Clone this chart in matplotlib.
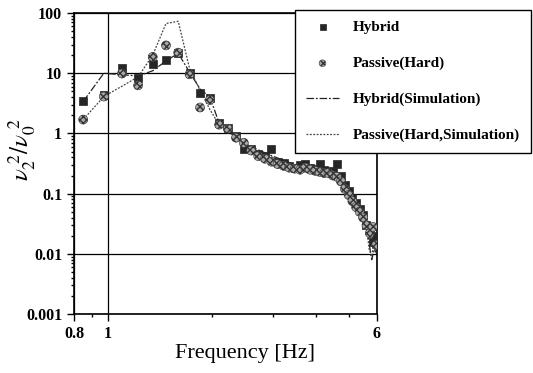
import matplotlib
matplotlib.use("Agg")
import matplotlib.pyplot as plt
from matplotlib.ticker import NullFormatter, FixedLocator

# Measured points (frequency step 0.125 Hz)
freq = [0.85, 0.975, 1.1, 1.225, 1.35, 1.475, 1.6, 1.725, 1.85, 1.975,
        2.1, 2.225, 2.35, 2.475, 2.6, 2.725, 2.85, 2.975, 3.1, 3.225,
        3.35, 3.475, 3.6, 3.725, 3.85, 3.975, 4.1, 4.225, 4.35, 4.475,
        4.6, 4.725, 4.85, 4.975, 5.1, 5.225, 5.35, 5.475, 5.6, 5.725,
        5.85, 5.975]
hybrid = [3.4, 4.3, 12, 8.2, 14.5, 16.9, 21.8, 10, 4.7, 3.9,
          1.5, 1.25, 0.9, 0.56, 0.55, 0.45, 0.42, 0.56, 0.33, 0.32,
          0.29, 0.27, 0.3, 0.31, 0.27, 0.26, 0.31, 0.25, 0.24, 0.23,
          0.31, 0.2, 0.14, 0.11, 0.085, 0.07, 0.055, 0.045, 0.03, 0.025,
          0.016, 0.02]
passive = [1.7, 4.1, 9.9, 6.3, 18.7, 29, 22, 9.6, 2.7, 3.6,
           1.4, 1.2, 0.85, 0.7, 0.52, 0.42, 0.38, 0.34, 0.31, 0.29,
           0.27, 0.26, 0.25, 0.27, 0.25, 0.24, 0.23, 0.22, 0.22, 0.2,
           0.19, 0.16, 0.12, 0.095, 0.075, 0.06, 0.05, 0.04, 0.03, 0.022,
           0.028, 0.014]

# Simulation curves
sim_freq = [0.85, 0.975, 1.225, 1.35, 1.475, 1.6, 1.725, 1.85, 1.975, 2.1,
            2.35, 2.6, 3.0, 3.5, 4.0, 4.5, 4.8, 5.1, 5.4, 5.6,
            5.7, 5.8, 5.9, 6.0]
hybrid_sim = [3.4, 10, 9.0, 11, 16, 21.5, 10.4, 5.5, 4.0, 1.5,
              0.9, 0.6, 0.42, 0.3, 0.27, 0.22, 0.15, 0.09, 0.05, 0.03,
              0.015, 0.008, 0.012, 0.01]
passive_sim = [1.7, 4.1, 8.7, 20, 67, 73, 12, 5.2, 2.5, 1.4,
               0.85, 0.55, 0.4, 0.28, 0.25, 0.2, 0.14, 0.085, 0.05, 0.028,
               0.012, 0.009, 0.02, 0.012]

x_major = [0.8, 1, 6]
x_minor = [0.9, 2, 3, 4, 5]
y_ticks = [0.001, 0.01, 0.1, 1, 10, 100]
y_labels = ["0.001", "0.01", "0.1", "1", "10", "100"]

plt.rcParams["font.family"] = ["Liberation Serif", "DejaVu Serif"]
plt.rcParams["mathtext.fontset"] = "stix"

fig = plt.figure(figsize=(5.33, 3.73), dpi=100)
ax = fig.add_axes([0.139, 0.158, 0.568, 0.807])

ax.plot(sim_freq, hybrid_sim, color="#222222", lw=0.9,
        ls=(0, (6, 1.5, 1.5, 1.5)), label="Hybrid(Simulation)", zorder=3)
ax.plot(sim_freq, passive_sim, color="#444444", lw=0.9,
        ls=(0, (1.5, 1.2)), label="Passive(Hard,Simulation)", zorder=3)
ax.scatter(freq, hybrid, marker="s", s=38, color="#262626",
           edgecolor="#262626", linewidth=0.5, label="Hybrid", zorder=4)
ax.scatter(freq, passive, marker="o", s=42, facecolor="#a8a8a8",
           edgecolor="#333333", hatch="xxxxx", linewidth=0.4,
           label="Passive(Hard)", zorder=4)

ax.set_xscale("log")
ax.set_yscale("log")
ax.set_xlim(0.8, 6)
ax.set_ylim(0.001, 100)

ax.xaxis.set_major_locator(FixedLocator(x_major))
ax.xaxis.set_minor_locator(FixedLocator(x_minor))
ax.xaxis.set_minor_formatter(NullFormatter())
ax.set_xticklabels(["0.8", "1", "6"])
ax.set_yticks(y_ticks)
ax.set_yticklabels(y_labels)
ax.tick_params(which="both", direction="out", labelsize=11.5, width=1)
ax.tick_params(which="major", length=5)
ax.tick_params(which="minor", length=2.5)
for lab in ax.get_xticklabels() + ax.get_yticklabels():
    lab.set_fontweight("bold")

ax.grid(which="major", color="black", linewidth=0.9)
for sp in ax.spines.values():
    sp.set_linewidth(1.2)

ax.set_xlabel("Frequency [Hz]", fontsize=16)
ax.xaxis.set_label_coords(0.565, -0.10)
ax.set_ylabel(r"$\nu_2^{\ 2}/\nu_0^{\ 2}$", fontsize=18)
ax.yaxis.set_label_coords(-0.12, 0.545)

handles, labels = ax.get_legend_handles_labels()
order = [2, 3, 0, 1]
leg = fig.legend([handles[i] for i in order], [labels[i] for i in order],
                 loc="upper left", bbox_to_anchor=(295 / 533, 1 - 10 / 373),
                 borderaxespad=0, frameon=True, fancybox=False, framealpha=1,
                 edgecolor="black", prop={"weight": "bold", "size": 11},
                 labelspacing=1.45, handlelength=2.2, handletextpad=0.9,
                 borderpad=0.7, markerscale=0.75)
leg.get_frame().set_linewidth(1.0)

fig.savefig("out.png", dpi=100)
